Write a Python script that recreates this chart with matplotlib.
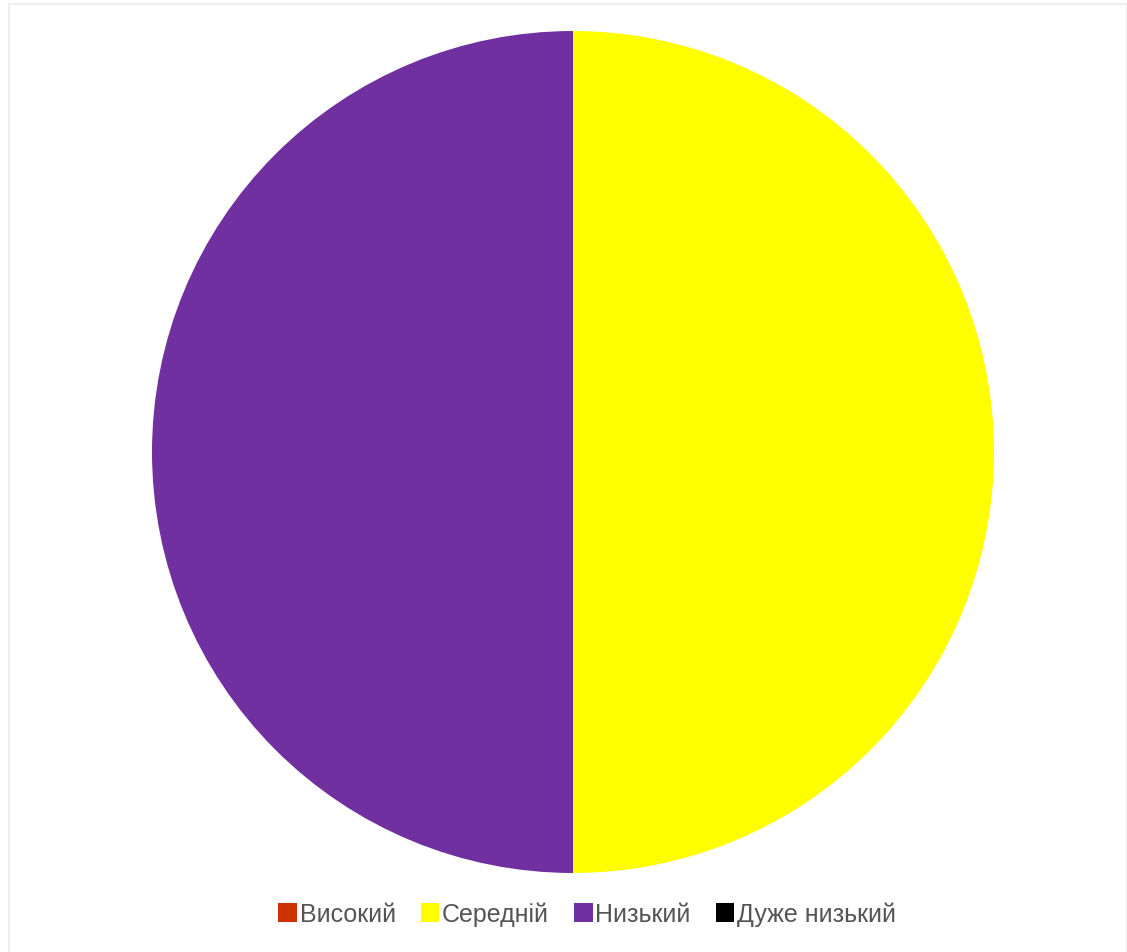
import matplotlib.pyplot as plt
from matplotlib.patches import Rectangle, Patch

plt.rcParams['font.family'] = ['Liberation Sans', 'DejaVu Sans']

labels = ["Високий", "Середній", "Низький", "Дуже низький"]
values = [0, 1, 1, 0]
colors = ["#CC3300", "#FFFF00", "#7030A0", "#000000"]

W, H = 1127, 953
fig = plt.figure(figsize=(W / 100, H / 100), dpi=100)

# faint frame round the chart area
fig.patches.append(Rectangle((9 / W, -0.01), (1127 - 9) / W, (H - 5) / H + 0.01,
                             transform=fig.transFigure, fill=False,
                             edgecolor="#ebebeb", linewidth=1.2))

r = 421
cx, cy = 573, H - 453
ax = fig.add_axes([(cx - r) / W, (cy - r) / H, 2 * r / W, 2 * r / H])
ax.pie(values, colors=colors, startangle=90, counterclock=False,
       wedgeprops=dict(linewidth=0))
ax.set_xlim(-1, 1)
ax.set_ylim(-1, 1)
ax.set_aspect("equal")
ax.axis("off")

handles = [Patch(facecolor=c, edgecolor="none") for c in colors]
fig.legend(handles, labels, loc="center", bbox_to_anchor=(587 / W, 1 - 915 / H),
           ncol=4, frameon=False, fontsize=18, labelcolor="#555555",
           handlelength=0.75, handleheight=0.75, handletextpad=0.1,
           columnspacing=1.0)

fig.savefig("out.png", dpi=100)
